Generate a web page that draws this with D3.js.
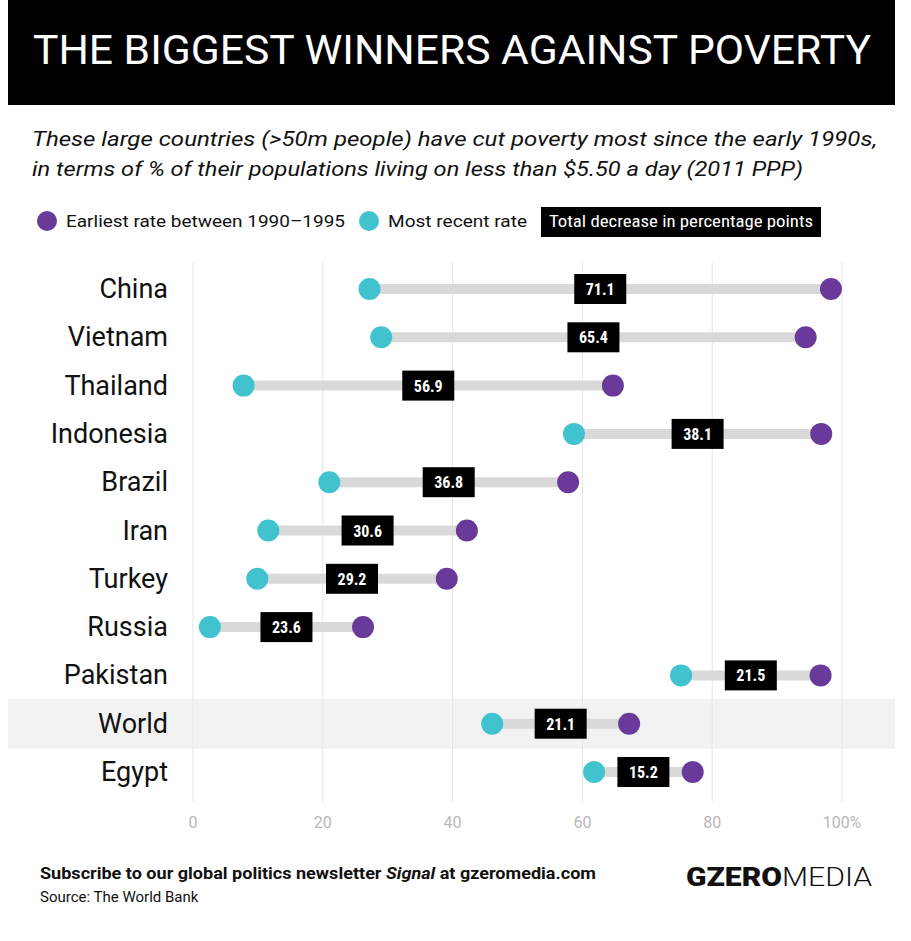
<!DOCTYPE html>
<html><head><meta charset="utf-8">
<script src="https://cdn.jsdelivr.net/npm/d3@7"></script>
<style>body{margin:0;background:#fff}</style>
</head><body>
<svg id="chart" width="911" height="941"></svg>
<script>
const countries = ["China","Vietnam","Thailand","Indonesia","Brazil","Iran","Turkey","Russia","Pakistan","World","Egypt"];
const earliest = [98.3, 94.4, 64.7, 96.8, 57.8, 42.2, 39.1, 26.2, 96.7, 67.2, 77.0];
const recent   = [27.2, 29.0, 7.8, 58.7, 21.0, 11.6, 9.9, 2.6, 75.2, 46.1, 61.8];
const decrease = ["71.1","65.4","56.9","38.1","36.8","30.6","29.2","23.6","21.5","21.1","15.2"];
const ticks = [0, 20, 40, 60, 80, 100];

const purple = "#6a3a9a", cyan = "#40c3cf";
const svg = d3.select("#chart");
const font = "Roboto, 'DejaVu Sans', sans-serif";
const cond = "'Roboto Condensed', 'Liberation Sans Narrow', Roboto, sans-serif";

// header
svg.append("rect").attr("x", 8).attr("y", 0).attr("width", 887).attr("height", 105).attr("fill", "#000");
svg.append("text").attr("x", 452).attr("y", 64).attr("text-anchor", "middle")
  .attr("fill", "#fff").attr("font-family", font).attr("font-size", 41)
  .attr("textLength", 838).attr("lengthAdjust", "spacingAndGlyphs")
  .text("THE BIGGEST WINNERS AGAINST POVERTY");

const sub = ["These large countries (>50m people) have cut poverty most since the early 1990s,",
             "in terms of % of their populations living on less than $5.50 a day (2011 PPP)"];
svg.selectAll(".sub").data(sub).enter().append("text")
  .attr("x", 32).attr("y", (d, i) => 146 + i * 30)
  .attr("font-family", font).attr("font-style", "italic").attr("font-size", 21).attr("fill", "#111")
  .attr("textLength", (d, i) => i ? 771 : 845).attr("lengthAdjust", "spacingAndGlyphs")
  .text(d => d);

// legend
const lg = svg.append("g").attr("font-family", font).attr("font-size", 17).attr("fill", "#111");
lg.append("circle").attr("cx", 47).attr("cy", 221).attr("r", 10).attr("fill", purple);
lg.append("text").attr("x", 66).attr("y", 227).attr("textLength", 279).attr("lengthAdjust", "spacingAndGlyphs")
  .text("Earliest rate between 1990–1995");
lg.append("circle").attr("cx", 369).attr("cy", 221).attr("r", 10).attr("fill", cyan);
lg.append("text").attr("x", 388).attr("y", 227).attr("textLength", 139).attr("lengthAdjust", "spacingAndGlyphs")
  .text("Most recent rate");
lg.append("rect").attr("x", 541).attr("y", 207).attr("width", 280).attr("height", 30).attr("fill", "#000");
lg.append("text").attr("x", 681).attr("y", 227).attr("text-anchor", "middle").attr("fill", "#fff")
  .attr("font-family", cond).attr("font-size", 16).attr("textLength", 264).attr("lengthAdjust", "spacingAndGlyphs")
  .text("Total decrease in percentage points");

const x = d3.scaleLinear().domain([0, 100]).range([193, 842]);
const y = d3.scalePoint().domain(countries).range([289, 772]);

// world band
svg.append("rect").attr("x", 8).attr("y", y("World") - 25).attr("width", 887).attr("height", 50).attr("fill", "#f2f2f2");

// grid
svg.selectAll(".grid").data(ticks).enter().append("line")
  .attr("x1", d => x(d)).attr("x2", d => x(d)).attr("y1", 262).attr("y2", 802)
  .attr("stroke", "#e6e6e6").attr("stroke-width", 1);
svg.selectAll(".tick").data(ticks).enter().append("text")
  .attr("x", d => x(d)).attr("y", 828).attr("text-anchor", "middle")
  .attr("font-family", font).attr("font-size", 16).attr("fill", "#b8b8b8")
  .text(d => d === 100 ? "100%" : d);

const rows = countries.map((c, i) => ({c, e: earliest[i], r: recent[i], d: decrease[i]}));
const g = svg.selectAll(".row").data(rows).enter().append("g");
g.append("line").attr("x1", d => x(d.r)).attr("x2", d => x(d.e))
  .attr("y1", d => y(d.c)).attr("y2", d => y(d.c)).attr("stroke", "#d9d9d9").attr("stroke-width", 10);
g.append("circle").attr("cx", d => x(d.r)).attr("cy", d => y(d.c)).attr("r", 11).attr("fill", cyan);
g.append("circle").attr("cx", d => x(d.e)).attr("cy", d => y(d.c)).attr("r", 11).attr("fill", purple);
g.append("rect").attr("x", d => x((d.e + d.r) / 2) - 26).attr("y", d => y(d.c) - 15)
  .attr("width", 52).attr("height", 30).attr("fill", "#000");
g.append("text").attr("x", d => x((d.e + d.r) / 2)).attr("y", d => y(d.c) + 6)
  .attr("text-anchor", "middle").attr("fill", "#fff").attr("font-family", cond)
  .attr("font-weight", "bold").attr("font-size", 16).text(d => d.d);
g.append("text").attr("x", 168).attr("y", d => y(d.c) + 9).attr("text-anchor", "end")
  .attr("font-family", font).attr("font-size", 27).attr("fill", "#111").text(d => d.c);

// footer
const ft = svg.append("g").attr("font-family", font).attr("fill", "#111");
const t1 = ft.append("text").attr("x", 40).attr("y", 879).attr("font-size", 17).attr("font-weight", "bold")
  .attr("textLength", 556).attr("lengthAdjust", "spacingAndGlyphs");
t1.append("tspan").text("Subscribe to our global politics newsletter ");
t1.append("tspan").attr("font-style", "italic").text("Signal");
t1.append("tspan").text(" at gzeromedia.com");
ft.append("text").attr("x", 40).attr("y", 902).attr("font-size", 15).text("Source: The World Bank");
const lo = ft.append("text").attr("x", 872).attr("y", 886).attr("text-anchor", "end").attr("font-size", 26)
  .attr("textLength", 186).attr("lengthAdjust", "spacingAndGlyphs");
lo.append("tspan").attr("font-weight", "900").text("GZERO");
lo.append("tspan").attr("font-weight", "300").text("MEDIA");
</script>
</body></html>
